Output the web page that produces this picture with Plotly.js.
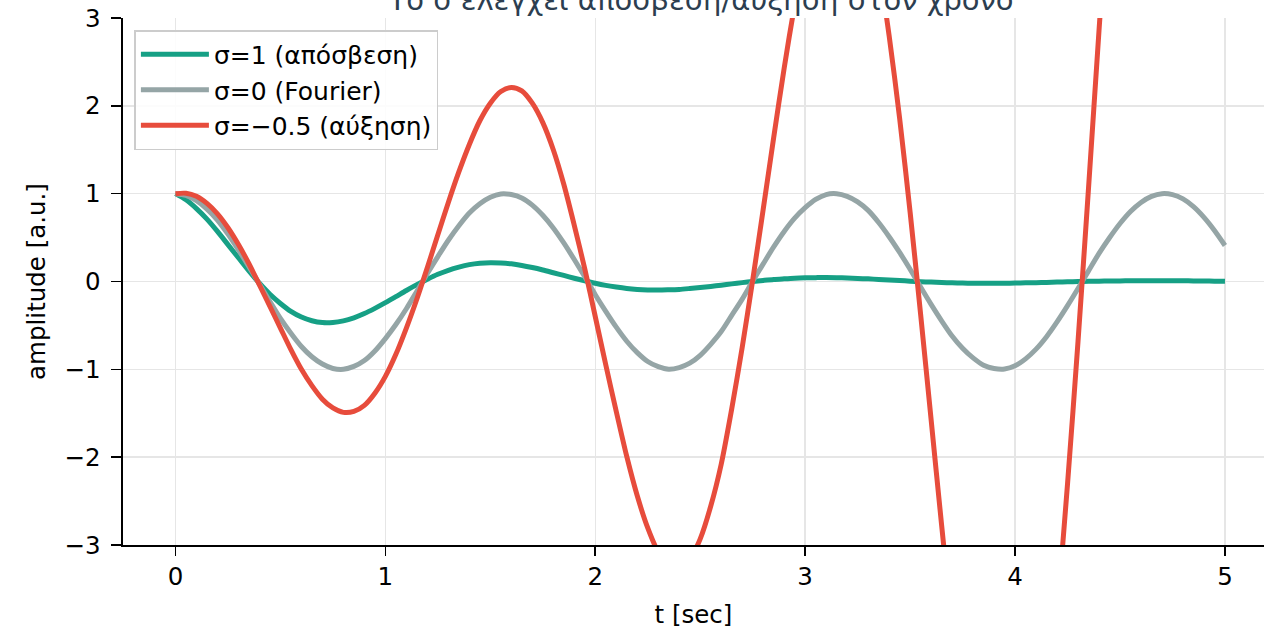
<!DOCTYPE html>
<html>
<head>
<meta charset="utf-8">
<script src="https://cdn.plot.ly/plotly-3.0.1.min.js"></script>
<style>html,body{margin:0;padding:0;background:#fff;}#chart{width:1264px;height:634px;}</style>
</head>
<body>
<div id="chart"></div>
<script>
const t = [0.00,0.05,0.10,0.15,0.20,0.25,0.30,0.35,0.40,0.45,0.50,0.55,0.60,0.65,0.70,0.75,0.80,0.85,0.90,0.95,
           1.00,1.05,1.10,1.15,1.20,1.25,1.30,1.35,1.40,1.45,1.50,1.55,1.60,1.65,1.70,1.75,1.80,1.85,1.90,1.95,
           2.00,2.05,2.10,2.15,2.20,2.25,2.30,2.35,2.40,2.45,2.50,2.55,2.60,2.65,2.70,2.75,2.80,2.85,2.90,2.95,
           3.00,3.05,3.10,3.15,3.20,3.25,3.30,3.35,3.40,3.45,3.50,3.55,3.60,3.65,3.70,3.75,3.80,3.85,3.90,3.95,
           4.00,4.05,4.10,4.15,4.20,4.25,4.30,4.35,4.40,4.45,4.50,4.55,4.60,4.65,4.70,4.75,4.80,4.85,4.90,4.95,5.00];

const damped = [1.00,0.93,0.83,0.71,0.57,0.42,0.27,0.12,-0.02,-0.145,-0.25,-0.34,-0.405,-0.447,-0.468,-0.467,-0.448,-0.413,-0.365,-0.306,
                -0.241,-0.172,-0.102,-0.036,0.026,0.082,0.128,0.164,0.192,0.208,0.214,0.211,0.201,0.183,0.159,0.131,0.100,0.069,0.037,0.008,
                -0.020,-0.044,-0.063,-0.079,-0.090,-0.096,-0.098,-0.095,-0.090,-0.080,-0.069,-0.056,-0.042,-0.027,-0.013,0.000,0.012,0.023,0.031,0.038,
                0.042,0.044,0.045,0.043,0.040,0.035,0.030,0.024,0.017,0.011,0.004,-0.002,-0.007,-0.012,-0.015,-0.018,-0.019,-0.020,-0.020,-0.019,
                -0.018,-0.015,-0.013,-0.010,-0.007,-0.004,-0.001,0.002,0.004,0.006,0.007,0.008,0.009,0.009,0.009,0.009,0.008,0.007,0.005,0.004,0.003];

const fourier = [1.00,0.98,0.92,0.825,0.70,0.54,0.36,0.17,-0.03,-0.227,-0.42,-0.589,-0.74,-0.857,-0.94,-0.99,-1.00,-0.967,-0.90,-0.791,
                 -0.65,-0.49,-0.31,-0.112,0.09,0.284,0.47,0.635,0.78,0.886,0.96,0.997,0.99,0.951,0.87,0.754,0.61,0.439,0.25,0.054,
                 -0.15,-0.34,-0.52,-0.68,-0.81,-0.911,-0.97,-0.999,-0.98,-0.93,-0.84,-0.715,-0.57,-0.386,-0.20,0.004,0.20,0.394,0.57,0.721,
                 0.84,0.934,0.99,0.999,0.97,0.907,0.81,0.672,0.51,0.331,0.14,-0.063,-0.26,-0.447,-0.62,-0.76,-0.87,-0.953,-0.99,-0.996,
                 -0.96,-0.881,-0.77,-0.628,-0.46,-0.275,-0.08,0.121,0.32,0.498,0.66,0.797,0.90,0.969,1.00,0.989,0.94,0.852,0.73,0.581,0.41];

const growing = [1.00,1.005,0.97,0.889,0.77,0.612,0.42,0.202,-0.04,-0.284,-0.53,-0.776,-1.00,-1.186,-1.34,-1.44,-1.49,-1.479,-1.41,-1.272,
                 -1.08,-0.829,-0.53,-0.199,0.16,0.531,0.90,1.247,1.56,1.83,2.03,2.163,2.21,2.17,2.03,1.809,1.50,1.107,0.64,0.143,
                 -0.40,-0.948,-1.48,-1.992,-2.44,-2.806,-3.08,-3.235,-3.27,-3.166,-2.93,-2.559,-2.08,-1.452,-0.75,0.016,0.82,1.638,2.43,3.152,
                 3.78,4.292,4.65,4.826,4.82,4.606,4.20,3.588,2.80,1.858,0.79,-0.372,-1.57,-2.773,-3.92,-4.956,-5.84,-6.533,-6.99,-7.178,
                 -7.08,-6.674,-5.98,-5.002,-3.77,-2.303,-0.68,1.065,2.86,4.608,6.26,7.754,8.99,9.911,10.48,10.634,10.35,9.63,8.47,6.904,4.97];

const seriesNames = ["σ=1 (απόσβεση)", "σ=0 (Fourier)", "σ=−0.5 (αύξηση)"];
const xTicks = [0,1,2,3,4,5];
const yTicks = [-3,-2,-1,0,1,2,3];
const titleText = "Το σ ελέγχει απόσβεση/αύξηση στον χρόνο";
const xLabel = "t [sec]";
const yLabel = "amplitude [a.u.]";

const colors = ["#16a085", "#95a5a6", "#e74c3c"];
const ys = [damped, fourier, growing];

const traces = ys.map((y, i) => ({
  x: t, y: y, type: "scatter", mode: "lines", name: seriesNames[i],
  line: {color: colors[i], width: 5, shape: "spline", smoothing: 0.8},
  cliponaxis: true
}));

const font = {family: "DejaVu Sans, sans-serif", size: 24.5, color: "#000"};

const layout = {
  width: 1264, height: 634,
  margin: {l: 123, r: 0, t: 18, b: 89, pad: 0},
  paper_bgcolor: "#fff", plot_bgcolor: "#fff",
  font: font,
  showlegend: true,
  title: {text: titleText, x: 0.5546, xanchor: "center", y: 1, yref: "container", yanchor: "middle",
          font: {family: "DejaVu Sans, sans-serif", size: 29, color: "#2c3e50"}},
  xaxis: {
    range: [-0.25, 5.186], tickvals: xTicks, ticktext: xTicks.map(String),
    showgrid: true, gridcolor: "#e6e6e6", gridwidth: 1.5,
    zeroline: false, showline: true, linecolor: "#000", linewidth: 1.6,
    ticks: "outside", ticklen: 9, tickwidth: 1.6, tickcolor: "#000",
    tickfont: font,
    title: {text: xLabel, font: font, standoff: 16}
  },
  yaxis: {
    range: [-3, 3], tickvals: yTicks,
    showgrid: true, gridcolor: "#e6e6e6", gridwidth: 1.5,
    zeroline: false, showline: true, linecolor: "#000", linewidth: 1.6,
    ticks: "outside", ticklen: 10, tickwidth: 1.6, tickcolor: "#000",
    ticklabelstandoff: 6,
    tickfont: font,
    title: {text: yLabel, font: font, standoff: 12}
  },
  legend: {
    x: 0.01, y: 0.977, xanchor: "left", yanchor: "top",
    bgcolor: "rgba(255,255,255,0.85)", bordercolor: "#cccccc", borderwidth: 1.5,
    font: {family: "DejaVu Sans, sans-serif", size: 25, color: "#000"},
    itemwidth: 68,
    tracegroupgap: 0
  }
};

Plotly.newPlot("chart", traces, layout, {displayModeBar: false, staticPlot: true});
</script>
</body>
</html>
